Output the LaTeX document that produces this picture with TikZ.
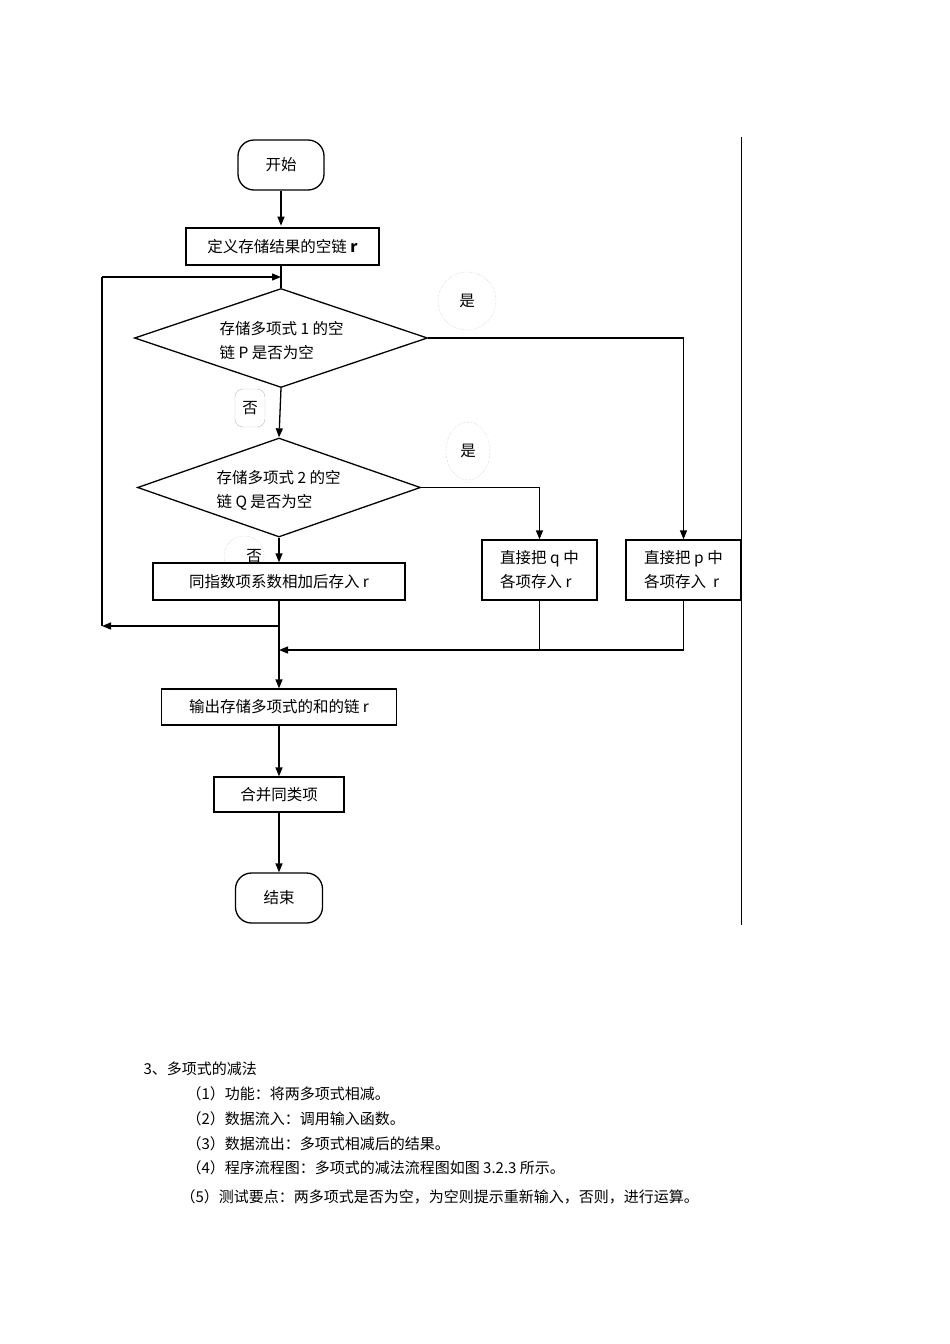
\documentclass[tikz,border=0pt]{standalone}
\usepackage{fontspec}
\setmainfont{Liberation Serif}
\newfontfamily\cjk{Noto Sans CJK SC}
\usetikzlibrary{shapes.geometric,arrows.meta}
\begin{document}
\begin{tikzpicture}[x=1pt,y=-1pt,
  every node/.style={font=\cjk\fontsize{15.5}{24}\selectfont},
  box/.style={draw,line width=1.3pt,rectangle,inner sep=0pt},
  term/.style={draw,line width=1.3pt,rounded corners=16pt,inner sep=0pt},
  dia/.style={draw,line width=1.3pt,diamond,aspect=2.95,inner sep=0pt},
  lab/.style={draw=black!25,thin,rounded corners=8pt,inner sep=0pt},
  arr/.style={line width=1.3pt,-{Triangle[length=9pt,width=7pt]}},
  ln/.style={line width=1.3pt}]
\useasboundingbox (0,0) rectangle (950,1344);
\node[term,minimum width=86pt,minimum height=50pt] (start) at (281,165) {开始};
\node[box,minimum width=193pt,minimum height=37pt] (def) at (282.5,246.5) {定义存储结果的空链\ \textbf{r}};
\node[dia,minimum width=293pt,minimum height=99pt] (d1) at (281,338) {};
\node[align=left,anchor=west] at (216,341) {存储多项式 1 的空\\链 P 是否为空};
\node[dia,minimum width=283pt,minimum height=99pt] (d2) at (279,487.5) {};
\node[align=left,anchor=west] at (213,490) {存储多项式 2 的空\\链 Q 是否为空};
\node[lab,circle,minimum size=58pt,densely dotted] (y1) at (467,301) {是};
\node[lab,ellipse,minimum width=44pt,minimum height=58pt,densely dotted] (y2) at (468,451) {是};
\node[lab,minimum width=30pt,minimum height=38pt] (n1) at (250,408) {否};
\node[lab,circle,minimum size=40pt,densely dotted] (n2) at (244,556) {};
\node at (254,556) {否};
\node[box,fill=white,minimum width=252pt,minimum height=37pt] (add) at (279,581.5) {同指数项系数相加后存入\ r};
\node[box,minimum width=115pt,minimum height=60pt,align=left] (bq) at (539.5,570) {直接把 q 中\\各项存入 r};
\node[box,minimum width=115pt,minimum height=60pt,align=left] (bp) at (683.5,570) {直接把 p 中\\各项存入\ \ r};
\node[box,minimum width=235pt,minimum height=36pt] (out) at (279,707) {输出存储多项式的和的链 r};
\node[box,minimum width=130pt,minimum height=35pt] (mer) at (279,794.5) {合并同类项};
\node[term,minimum width=87pt,minimum height=50pt] (end) at (279,898) {结束};
\coordinate (top) at (741,137);
\coordinate (bot) at (741,925);
\draw[thin] (top) -- (bot);
\draw[arr] (start.south -| def.north) ++(-1.5,0) -- ++(0,35);
\draw[arr] (d1.south) -- (d2.north);
\draw[arr] (d2.south) -- (add.north);
\draw[arr] (d1.east) -| (bp.north);
\draw[arr] (d2.east) -| (bq.north);
\coordinate (jl) at (279,626);
\coordinate (ll) at (102,626);
\coordinate (lt) at (102,277);
\coordinate (tt) at (281,277);
\draw[ln] (281,265) -- (d1.north);
\draw[arr] (jl) -- (ll);
\draw[ln] (ll) -- (lt);
\draw[arr] (lt) -- (tt);
\draw[arr] (add.south) -- (out.north);
\coordinate (m) at (279,650);
\draw[ln] (bq.south) -- (bq.south |- m);
\draw[arr] (bp.south) |- (m);
\draw[arr] (out) -- (mer);
\draw[arr] (mer) -- (end);
\begin{scope}[every node/.style={font=\cjk\fontsize{15}{18}\selectfont,anchor=west}]
\node at (140,1069) {3、多项式的减法};
\node at (183,1094) {（1）功能：将两多项式相减。};
\node at (183,1119) {（2）数据流入：调用输入函数。};
\node at (183,1144) {（3）数据流出：多项式相减后的结果。};
\node at (183,1168) {（4）程序流程图：多项式的减法流程图如图 3.2.3 所示。};
\node at (177,1197) {（5）测试要点：两多项式是否为空，为空则提示重新输入，否则，进行运算。};
\end{scope}
\end{tikzpicture}
\end{document}
